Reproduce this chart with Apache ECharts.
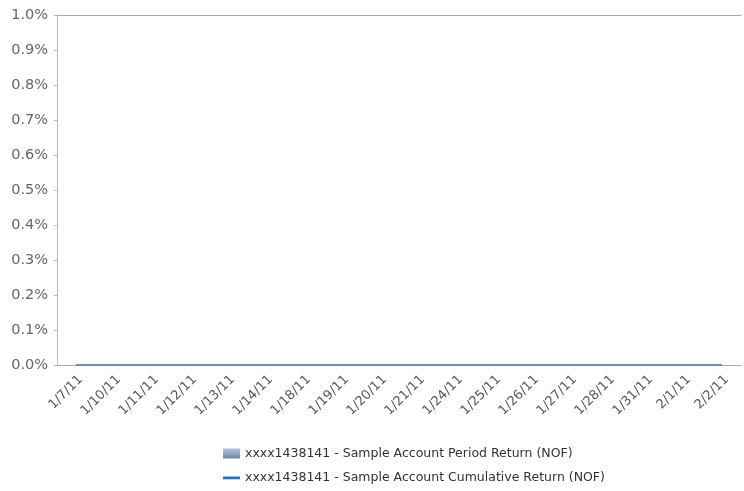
<!DOCTYPE html>
<html>
<head>
<meta charset="utf-8">
<script src="https://cdn.jsdelivr.net/npm/echarts@6/dist/echarts.min.js"></script>
<style>
  html, body { margin: 0; padding: 0; background: #fff; }
  #chart { width: 744px; height: 491px; }
</style>
</head>
<body>
<div id="chart"></div>
<script>
// dates on the x axis
const dates = ['1/7/11', '1/10/11', '1/11/11', '1/12/11', '1/13/11', '1/14/11', '1/18/11', '1/19/11', '1/20/11',
  '1/21/11', '1/24/11', '1/25/11', '1/26/11', '1/27/11', '1/28/11', '1/31/11', '2/1/11', '2/2/11']
// returns in percent
const periodReturn = [0, 0, 0, 0, 0, 0, 0, 0, 0, 0, 0, 0, 0, 0, 0, 0, 0, 0]
const cumulativeReturn = [0, 0, 0, 0, 0, 0, 0, 0, 0, 0, 0, 0, 0, 0, 0, 0, 0, 0]
const seriesNames = [
  'xxxx1438141 - Sample Account Period Return (NOF)',
  'xxxx1438141 - Sample Account Cumulative Return (NOF)'
]

const chart = echarts.init(document.getElementById('chart'))

const font = 'Verdana, "DejaVu Sans", sans-serif'

const legendBase = {
  left: 218,
  itemWidth: 17,
  itemHeight: 10,
  textStyle: { color: '#333', fontSize: 12.5, fontFamily: font }
}

const option = {
  animation: false,
  textStyle: { fontFamily: font },
  grid: { left: 57, right: 3, top: 15, bottom: 126 },
  legend: [
    Object.assign({}, legendBase, {
      top: 442,
      data: [{
        name: seriesNames[0],
        icon: 'rect',
        itemStyle: {
          color: new echarts.graphic.LinearGradient(0, 0, 0, 1, [
            { offset: 0, color: '#b3c4da' },
            { offset: 1, color: '#6f87a6' }
          ])
        }
      }]
    }),
    Object.assign({}, legendBase, {
      top: 466,
      data: [{
        name: seriesNames[1],
        // thin bar in the middle of the icon box
        icon: 'path://M0,0M0,4L17,4L17,6.8L0,6.8ZM17,10',
        itemStyle: { color: '#2f6fc0' }
      }]
    })
  ],
  xAxis: [
    {
      type: 'category',
      data: dates,
      boundaryGap: true,
      axisLine: { lineStyle: { color: '#a8a8a8', width: 1 } },
      axisTick: { alignWithLabel: true, length: 4, lineStyle: { color: '#a8a8a8' } },
      axisLabel: { rotate: 45, color: '#555', fontSize: 13, margin: 8, interval: 0, verticalAlign: 'top' }
    },
    {
      type: 'category',
      position: 'top',
      data: dates,
      axisLine: { lineStyle: { color: '#a8a8a8', width: 1 } },
      axisTick: { show: false },
      axisLabel: { show: false }
    }
  ],
  yAxis: {
    type: 'value',
    min: 0,
    max: 1,
    interval: 0.1,
    axisLine: { show: true, lineStyle: { color: '#bdbdbd' } },
    axisTick: { show: true, length: 3, lineStyle: { color: '#bdbdbd' } },
    splitLine: { show: false },
    axisLabel: {
      color: '#666',
      fontSize: 14.5,
      margin: 9,
      formatter: v => v.toFixed(1) + '%'
    }
  },
  series: [
    {
      name: seriesNames[0],
      type: 'bar',
      data: periodReturn,
      itemStyle: { color: '#8ea3bf' }
    },
    {
      name: seriesNames[1],
      type: 'line',
      data: cumulativeReturn,
      symbol: 'none',
      color: '#2f6fc0',
      lineStyle: { color: '#7890ad', width: 2 }
    }
  ]
}

chart.setOption(option)
</script>
</body>
</html>
